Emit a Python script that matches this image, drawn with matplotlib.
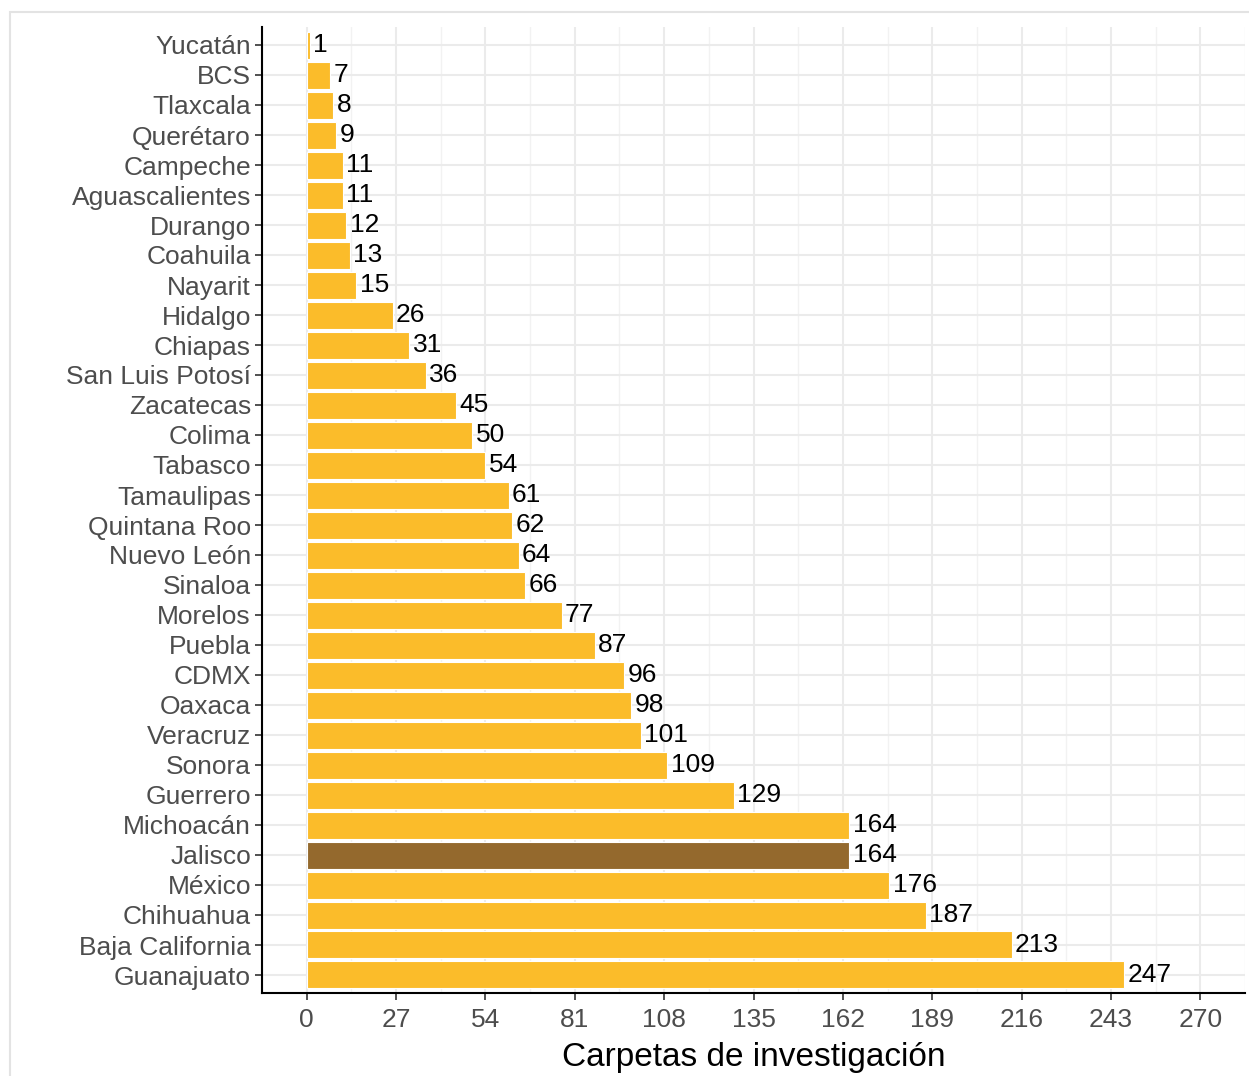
import matplotlib.pyplot as plt
from matplotlib.patches import Rectangle
from matplotlib.ticker import MultipleLocator

plt.rcParams['font.family'] = ['Liberation Sans', 'DejaVu Sans']

estados = ["Yucatán", "BCS", "Tlaxcala", "Querétaro", "Campeche", "Aguascalientes",
           "Durango", "Coahuila", "Nayarit", "Hidalgo", "Chiapas", "San Luis Potosí",
           "Zacatecas", "Colima", "Tabasco", "Tamaulipas", "Quintana Roo", "Nuevo León",
           "Sinaloa", "Morelos", "Puebla", "CDMX", "Oaxaca", "Veracruz", "Sonora",
           "Guerrero", "Michoacán", "Jalisco", "México", "Chihuahua", "Baja California",
           "Guanajuato"]
carpetas = [1, 7, 8, 9, 11, 11, 12, 13, 15, 26, 31, 36, 45, 50, 54, 61, 62, 64, 66,
            77, 87, 96, 98, 101, 109, 129, 164, 164, 176, 187, 213, 247]
destacado = "Jalisco"
xticks = [0, 27, 54, 81, 108, 135, 162, 189, 216, 243, 270]

color_base = "#FBBC2A"
color_dest = "#94692D"

fig = plt.figure(figsize=(12.49, 10.76), dpi=100)
fig.patches.append(Rectangle((10 / 1249, -0.01), 1.1, 1 - 12 / 1076 + 0.01,
                             transform=fig.transFigure, fill=False,
                             edgecolor="#E3E3E3", linewidth=1.5))

ax = fig.add_axes([262 / 1249, 1 - 993 / 1076, (1245 - 262) / 1249, (993 - 27) / 1076])

n = len(estados)
ypos = [n - 1 - i for i in range(n)]
colores = [color_dest if e == destacado else color_base for e in estados]
ax.barh(ypos, carpetas, height=0.9, color=colores, edgecolor="white", linewidth=0.8, zorder=3)
for y, v in zip(ypos, carpetas):
    ax.text(v + 1.0, y, str(v), va="center", ha="left", fontsize=19, color="black", zorder=4)

ax.set_yticks(ypos)
ax.set_yticklabels(estados)
ax.set_xticks(xticks)
ax.xaxis.set_minor_locator(MultipleLocator(13.5))
ax.set_xlim(-13.5, 283.5)
ax.set_ylim(-0.6, n - 1 + 0.6)

ax.grid(True, which="major", color="#EBEBEB", linewidth=1.5, zorder=0)
ax.grid(True, which="minor", axis="x", color="#F2F2F2", linewidth=1.0, zorder=0)
ax.tick_params(which="minor", length=0)
ax.tick_params(which="major", labelsize=19, labelcolor="#4D4D4D", color="#333333",
               length=5, width=1.2, pad=3)
ax.tick_params(axis="x", pad=6)
for s in ["top", "right"]:
    ax.spines[s].set_visible(False)
for s in ["left", "bottom"]:
    ax.spines[s].set_linewidth(1.5)
    ax.spines[s].set_color("black")

ax.set_xlabel("Carpetas de investigación", fontsize=24, color="black", labelpad=7)

fig.savefig("out.png", dpi=100)
